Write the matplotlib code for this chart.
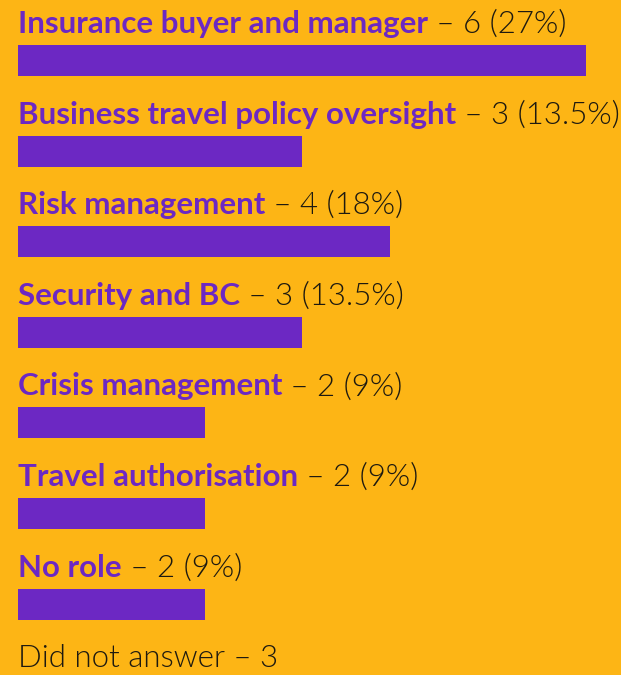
import matplotlib
matplotlib.use("Agg")
import matplotlib.pyplot as plt
from matplotlib import transforms

categories = ["Insurance buyer and manager", "Business travel policy oversight",
              "Risk management", "Security and BC", "Crisis management",
              "Travel authorisation", "No role"]
counts = [6, 3, 4, 3, 2, 2, 2]
percent_labels = ["27%", "13.5%", "18%", "13.5%", "9%", "9%", "9%"]
# bar lengths as drawn in the picture (percent of respondents)
bar_lengths = [27, 13.5, 17.7, 13.5, 8.9, 8.9, 8.9]
no_answer_label = "Did not answer"
no_answer_count = 3

BG = "#FDB515"
PURPLE = "#6C28C3"
DARK = "#1E1A10"

W, H = 621, 675
fig = plt.figure(figsize=(W / 100, H / 100), dpi=100)
fig.patch.set_facecolor(BG)
left_px = 18
ax = fig.add_axes([left_px / W, 0, 1 - left_px / W, 1])
ax.set_facecolor(BG)
ax.set_axis_off()

px_per_unit_x = 568 / 27
ax.set_xlim(0, (W - left_px) / px_per_unit_x)
spacing = 90.6
first_center = 60.5
ax.set_ylim((H - first_center) / spacing, -first_center / spacing)

ypos = list(range(len(categories)))
ax.barh(ypos, bar_lengths, height=31 / spacing, color=PURPLE, align="center")

fs = 22.5
base_off = 27.5 / spacing
fig.canvas.draw()
renderer = fig.canvas.get_renderer()

rest_props = dict(fontsize=fs, family="Lato", weight=300, color=DARK,
                  va="baseline", ha="left")

def two_part(y, bold_text, rest_text):
    if bold_text:
        t1 = ax.text(0, y, bold_text, fontsize=fs, family="Lato", weight="bold",
                     color=PURPLE, va="baseline", ha="left")
        w = t1.get_window_extent(renderer=renderer).width
        tr = transforms.offset_copy(ax.transData, fig=fig, x=w, y=0, units="dots")
        ax.text(0, y, rest_text, transform=tr, **rest_props)
    else:
        ax.text(0, y, rest_text, **rest_props)

for i, (cat, c, p) in enumerate(zip(categories, counts, percent_labels)):
    two_part(i - base_off, cat, f" \u2013 {c} ({p})")

two_part(len(categories) - base_off, None, f"{no_answer_label} \u2013 {no_answer_count}")

fig.savefig("out.png", dpi=100, facecolor=BG)
